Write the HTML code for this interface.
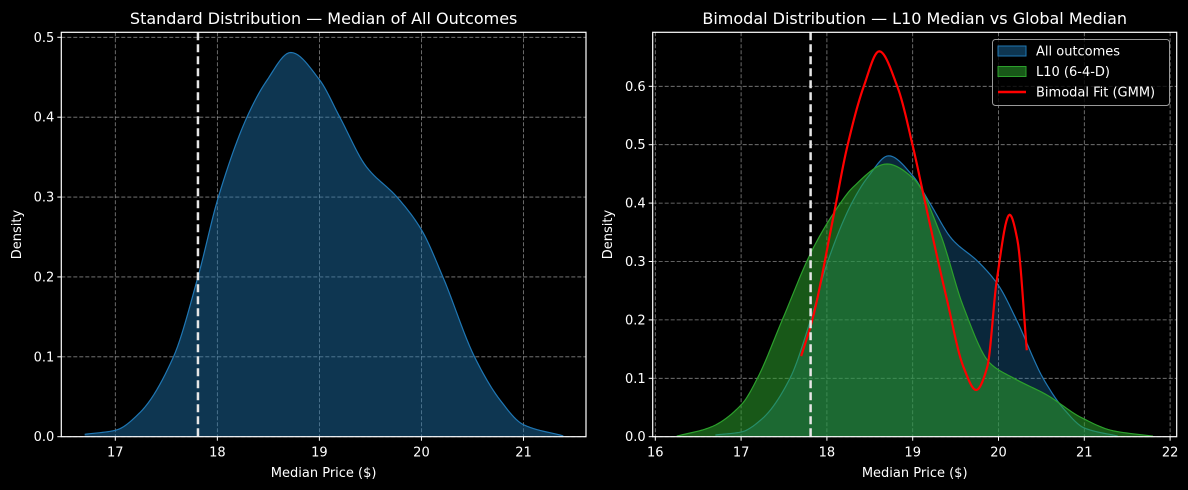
<!DOCTYPE html>
<html><head><meta charset="utf-8"><style>
body{margin:0;background:#000;}
svg{display:block;font-family:"DejaVu Sans","Liberation Sans",sans-serif;}
</style></head><body>
<svg id="chart" width="1188" height="490" viewBox="0 0 1188 490"></svg>
<script>
// ---- data ----
const allX=[16.70,17.00,17.24,17.57,17.81,18.01,18.29,18.48,18.72,19.00,19.20,19.46,19.76,20.00,20.21,20.52,20.77,21.00,21.39];
const allY=[0.003,0.008,0.03,0.10,0.20,0.30,0.40,0.445,0.481,0.447,0.40,0.338,0.30,0.259,0.20,0.10,0.046,0.015,0.001];
const l10X=[16.25,16.64,17.01,17.19,17.48,17.83,18.08,18.31,18.70,19.01,19.32,19.59,19.90,20.18,20.57,20.95,21.34,21.80];
const l10Y=[0.001,0.016,0.056,0.10,0.20,0.32,0.383,0.428,0.467,0.442,0.348,0.223,0.126,0.10,0.071,0.034,0.010,0.001];
const gmmX=[17.70,17.83,18.08,18.23,18.43,18.61,18.82,19.01,19.13,19.40,19.59,19.74,19.87,19.98,20.13,20.22,20.33];
const gmmY=[0.138,0.20,0.38,0.492,0.60,0.66,0.60,0.492,0.411,0.234,0.12,0.08,0.12,0.268,0.38,0.337,0.148];
const medianLine=17.81;
const leftXTicks=[17,18,19,20,21];
const leftYTicks=[0.0,0.1,0.2,0.3,0.4,0.5];
const rightXTicks=[16,17,18,19,20,21,22];
const rightYTicks=[0.0,0.1,0.2,0.3,0.4,0.5,0.6];

const NS="http://www.w3.org/2000/svg";
const svg=document.getElementById('chart');
function el(tag,attrs,parent,text){const e=document.createElementNS(NS,tag);for(const k in attrs)e.setAttribute(k,attrs[k]);if(text!==undefined)e.textContent=text;(parent||svg).appendChild(e);return e;}

// monotone cubic (Fritsch-Carlson) sampled finely
function monotone(xs,ys,n){
  const m=xs.length,d=[],t=new Array(m);
  for(let i=0;i<m-1;i++)d.push((ys[i+1]-ys[i])/(xs[i+1]-xs[i]));
  t[0]=d[0];t[m-1]=d[m-2];
  for(let i=1;i<m-1;i++){
    if(d[i-1]*d[i]<=0)t[i]=0;
    else{const h0=xs[i]-xs[i-1],h1=xs[i+1]-xs[i];const w1=2*h1+h0,w2=h1+2*h0;t[i]=(w1+w2)/(w1/d[i-1]+w2/d[i]);}
  }
  const out=[];
  for(let i=0;i<m-1;i++){
    const h=xs[i+1]-xs[i];
    for(let k=0;k<n;k++){
      const s=k/n,s2=s*s,s3=s2*s;
      const y=(2*s3-3*s2+1)*ys[i]+(s3-2*s2+s)*h*t[i]+(-2*s3+3*s2)*ys[i+1]+(s3-s2)*h*t[i+1];
      out.push([xs[i]+s*h,y]);
    }
  }
  out.push([xs[m-1],ys[m-1]]);
  return out;
}
function pathFrom(ax,pts){return pts.map((p,i)=>(i?'L':'M')+ax.sx(p[0]).toFixed(2)+','+ax.sy(p[1]).toFixed(2)).join(' ');}

function makeAxes(cfg){
  const g=el('g',{});
  
  
  const sx=v=>cfg.x0px+(v-cfg.x0)*cfg.xs;
  const sy=v=>cfg.y0px-v*cfg.ys;
  cfg.xt.forEach(t=>{const l=el('line',{x1:sx(t),x2:sx(t),y1:cfg.top,y2:cfg.bottom,stroke:'#bbb','stroke-opacity':0.7,'stroke-dasharray':'4,2','stroke-width':0.8},g);
    });
  cfg.yt.forEach(t=>{const l=el('line',{x1:cfg.left,x2:cfg.right,y1:sy(t),y2:sy(t),stroke:'#bbb','stroke-opacity':0.7,'stroke-dasharray':'4,2','stroke-width':0.8},g);
    });
  return {g,sx,sy};
}
function area(ax,xs,ys,fill,stroke,name){
  const pts=monotone(xs,ys,12);
  const line=pathFrom(ax,pts);
  const base=ax.sy(0);
  const d=line+" L"+ax.sx(xs[xs.length-1])+","+base+" L"+ax.sx(xs[0])+","+base+" Z";
  const a=el('path',{d:d,fill:fill},ax.g);
  
  const l=el('path',{d:line,fill:'none',stroke:stroke,'stroke-width':1.2},ax.g);
  
}
function frame(ax,cfg){
  const r=el('rect',{x:cfg.left,y:cfg.top,width:cfg.right-cfg.left,height:cfg.bottom-cfg.top,fill:'none',stroke:'#fff','stroke-width':1.2},ax.g);
  
  cfg.xt.forEach(t=>{el('line',{x1:ax.sx(t),x2:ax.sx(t),y1:cfg.bottom,y2:cfg.bottom+4,stroke:'#fff'},ax.g);
    const tx=el('text',{x:ax.sx(t),y:cfg.bottom+20,fill:'#fff','font-size':13,'text-anchor':'middle'},ax.g,String(t));
    });
  cfg.yt.forEach(t=>{el('line',{x1:cfg.left-4,x2:cfg.left,y1:ax.sy(t),y2:ax.sy(t),stroke:'#fff'},ax.g);
    const tx=el('text',{x:cfg.left-7,y:ax.sy(t)+4.5,fill:'#fff','font-size':13,'text-anchor':'end'},ax.g,t.toFixed(1));
    });
  const xl=el('text',{x:(cfg.left+cfg.right)/2,y:477,fill:'#fff','font-size':13,'text-anchor':'middle'},ax.g,'Median Price ($)');
  
  const yl=el('text',{x:0,y:0,fill:'#fff','font-size':13,'text-anchor':'middle',transform:'translate('+cfg.ylx+','+((cfg.top+cfg.bottom)/2)+') rotate(-90)'},ax.g,'Density');
  
  const ti=el('text',{x:(cfg.left+cfg.right)/2,y:24,fill:'#fff','font-size':16,'text-anchor':'middle'},ax.g,cfg.title);
  
}
function vline(ax,cfg){
  const l=el('line',{x1:ax.sx(medianLine),x2:ax.sx(medianLine),y1:cfg.top,y2:cfg.bottom,stroke:'#e6e6e6','stroke-width':2.5,'stroke-dasharray':'8,4'},ax.g);
  
}

// Left chart
const L={name:'left-chart',left:61.3,right:586,top:32.3,bottom:436.7,x0:17,x0px:115.3,xs:102.05,y0px:436.7,ys:798.8,xt:leftXTicks,yt:leftYTicks,ylx:21,title:'Standard Distribution — Median of All Outcomes'};
const axL=makeAxes(L);
area(axL,allX,allY,'rgba(31,119,180,0.45)','#1f77b4','all-outcomes');
vline(axL,L);
frame(axL,L);

// Right chart
const R={name:'right-chart',left:652.7,right:1176.7,top:32.3,bottom:436.7,x0:16,x0px:655.3,xs:85.8,y0px:436.7,ys:584,xt:rightXTicks,yt:rightYTicks,ylx:612,title:'Bimodal Distribution — L10 Median vs Global Median'};
const axR=makeAxes(R);
area(axR,allX,allY,'rgba(31,119,180,0.33)','#1f77b4','all-outcomes');
area(axR,l10X,l10Y,'rgba(44,160,44,0.55)','#2ca02c','l10');
const gl=el('path',{d:pathFrom(axR,monotone(gmmX,gmmY,12)),fill:'none',stroke:'#ff0000','stroke-width':2.2},axR.g);

vline(axR,R);
frame(axR,R);

// Legend
const lg=el('g',{});

el('rect',{x:992.5,y:39.5,width:177,height:66,rx:3,fill:'#000','fill-opacity':0.8,stroke:'#999'},lg);
const items=[['All outcomes','rgba(31,119,180,0.45)','#1f77b4'],['L10 (6-4-D)','rgba(44,160,44,0.55)','#2ca02c'],['Bimodal Fit (GMM)',null,'#ff0000']];
items.forEach((it,i)=>{
  const y=51+i*20.5;
  const e=el('g',{},lg);
  
  if(it[1]) el('rect',{x:998,y:y-5,width:28,height:10,fill:it[1],stroke:it[2]},e);
  else el('line',{x1:998,x2:1026,y1:y,y2:y,stroke:it[2],'stroke-width':2.5},e);
  el('text',{x:1036,y:y+4.5,fill:'#fff','font-size':13},e,it[0]);
});
</script>
</body></html>
